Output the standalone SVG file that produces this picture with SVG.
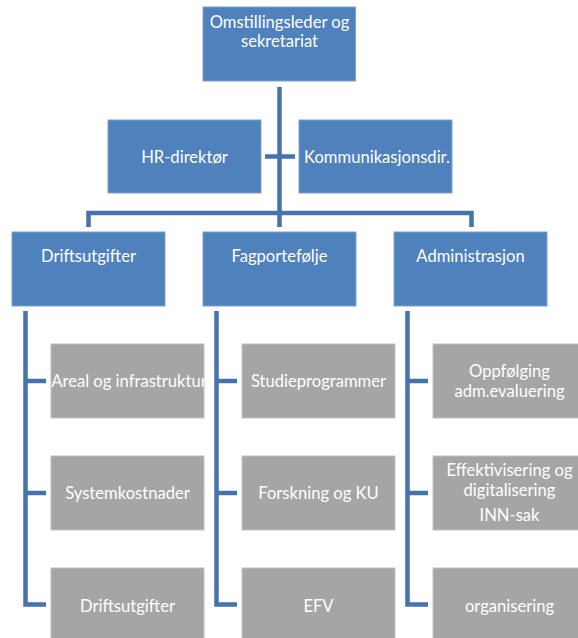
<svg xmlns="http://www.w3.org/2000/svg" width="578" height="638" viewBox="0 0 578 638">
<style>
.b{fill:#4F81BD;stroke:#7EA2CF;stroke-width:1}
.g{fill:#A5A5A5;stroke:#C2C2C2;stroke-width:1}
.t{fill:#FFFFFF;font-family:Lato,"Open Sans",sans-serif;font-size:16.6px;text-anchor:middle}
.c{fill:none;stroke:#4672AE;stroke-width:4.5;stroke-linejoin:miter;stroke-linecap:butt}
</style>
<defs>
<clipPath id="clipA"><rect x="51" y="344" width="153" height="74"/></clipPath>
</defs>
<rect width="578" height="638" fill="#FFFFFF"/>
<g id="connectors">
<path class="c" d="M279.5 87V227"/>
<path class="c" d="M265 156.5H295"/>
<path class="c" d="M88.5 227V213H471.5V227"/>
<path class="c" d="M25.5 311V604.5H46M25.5 381H46M25.5 493H46"/>
<path class="c" d="M216.5 311V604.5H237M216.5 381H237M216.5 493H237"/>
<path class="c" d="M407.5 311V604.5H428M407.5 381H428M407.5 493H428"/>
</g>
<g id="omstillingsleder">
<rect class="b" x="203" y="7" width="152.5" height="74"/>
<text class="t" x="279.5" y="28">Omstillingsleder og</text>
<text class="t" x="279.5" y="47">sekretariat</text>
</g>
<g id="hr">
<rect class="b" x="108" y="120" width="153" height="73"/>
<text class="t" x="184.5" y="162.5">HR-direktør</text>
</g>
<g id="kommunikasjon">
<rect class="b" x="299" y="120" width="153" height="73"/>
<text class="t" x="377" y="162.5">Kommunikasjonsdir.</text>
</g>
<g id="driftsutgifter">
<rect class="b" x="12" y="232" width="153" height="74"/>
<text class="t" x="88.5" y="262">Driftsutgifter</text>
</g>
<g id="fagportefolje">
<rect class="b" x="203" y="232" width="153" height="74"/>
<text class="t" x="279.5" y="262">Fagportefølje</text>
</g>
<g id="administrasjon">
<rect class="b" x="394" y="232" width="153" height="74"/>
<text class="t" x="470.5" y="262">Administrasjon</text>
</g>
<g id="areal">
<rect class="g" x="51" y="344" width="153" height="74"/>
<text class="t" x="129" y="387" clip-path="url(#clipA)">Areal og infrastruktur</text>
</g>
<g id="system">
<rect class="g" x="51" y="456" width="153" height="74"/>
<text class="t" x="127.5" y="499">Systemkostnader</text>
</g>
<g id="drift2">
<rect class="g" x="51" y="568" width="153" height="74"/>
<text class="t" x="127.5" y="611.5">Driftsutgifter</text>
</g>
<g id="studie">
<rect class="g" x="242" y="344" width="153" height="74"/>
<text class="t" x="318.5" y="387">Studieprogrammer</text>
</g>
<g id="forskning">
<rect class="g" x="242" y="456" width="153" height="74"/>
<text class="t" x="318.5" y="499">Forskning og KU</text>
</g>
<g id="efv">
<rect class="g" x="242" y="568" width="153" height="74"/>
<text class="t" x="318.5" y="611.5">EFV</text>
</g>
<g id="oppfolging">
<rect class="g" x="433" y="344" width="153" height="74"/>
<text class="t" x="509.5" y="377">Oppfølging</text>
<text class="t" x="509.5" y="397">adm.evaluering</text>
</g>
<g id="effektivisering">
<rect class="g" x="433" y="456" width="153" height="74"/>
<text class="t" x="509.5" y="476">Effektivisering og</text>
<text class="t" x="509.5" y="496">digitalisering</text>
<text class="t" x="509.5" y="520.5">INN-sak</text>
</g>
<g id="organisering">
<rect class="g" x="433" y="568" width="153" height="74"/>
<text class="t" x="509.5" y="611.5">organisering</text>
</g>
</svg>
